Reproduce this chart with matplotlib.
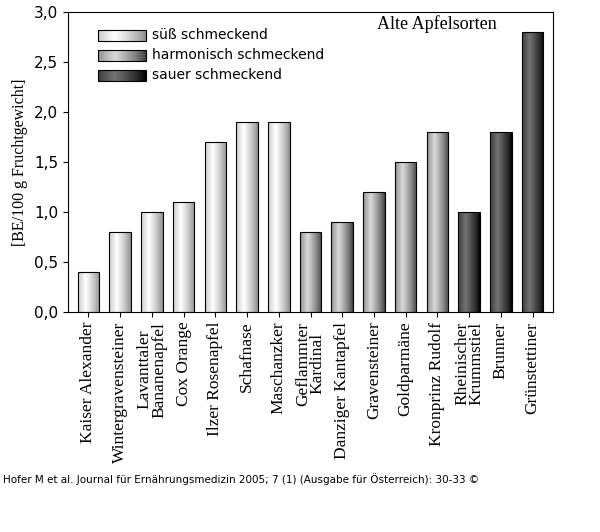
import matplotlib.pyplot as plt
import numpy as np

sorten = ['Kaiser Alexander', 'Wintergravensteiner', 'Lavanttaler\nBananenapfel', 'Cox Orange',
          'Ilzer Rosenapfel', 'Schafnase', 'Maschanzker', 'Geflammter\nKardinal',
          'Danziger Kantapfel', 'Gravensteiner', 'Goldparmäne', 'Kronprinz Rudolf',
          'Rheinischer\nKrummstiel', 'Brunner', 'Grünstettiner']
werte = [0.4, 0.8, 1.0, 1.1, 1.7, 1.9, 1.9, 0.8, 0.9, 1.2, 1.5, 1.8, 1.0, 1.8, 2.8]
gruppe = [0] * 7 + [1] * 5 + [2] * 3
gruppen_namen = ['süß schmeckend', 'harmonisch schmeckend', 'sauer schmeckend']

# (edge, highlight) grey levels per group
shades = [(0.55, 1.0), (0.25, 0.85), (0.0, 0.45)]

fig = plt.figure(figsize=(6, 5.32), dpi=100)
ax = fig.add_axes([0.113, 0.4135, 0.809, 0.5635])
w = 0.68
t = np.linspace(0, 1, 64)
prof = np.clip(1 - np.abs(t - 0.35) / 0.65, 0, 1) ** 0.8

def grad_bar(x, h, g):
    lo, hi = shades[g]
    img = (lo + (hi - lo) * prof)[None, :]
    ax.imshow(img, cmap='gray', vmin=0, vmax=1, aspect='auto',
              extent=[x - w / 2, x + w / 2, 0, h], zorder=2)
    ax.add_patch(plt.Rectangle((x - w / 2, 0), w, h, fill=False, ec='black', lw=0.8, zorder=3))

for i, (v, g) in enumerate(zip(werte, gruppe)):
    grad_bar(i, v, g)

ax.set_xlim(-0.65, len(werte) - 0.35)
ax.set_ylim(0, 3.0)
ax.set_yticks(np.arange(0, 3.01, 0.5))
ax.set_yticklabels([f'{v:.1f}'.replace('.', ',') for v in np.arange(0, 3.01, 0.5)], fontsize=11)
ax.set_xticks(range(len(werte)))
ax.set_xticklabels(sorten, rotation=90, fontsize=12.5, family='Liberation Serif', linespacing=0.85)
ax.tick_params(direction='out')
ax.set_ylabel('[BE/100 g Fruchtgewicht]', fontsize=11.5, family='Liberation Serif')
ax.text(0.76, 0.96, 'Alte Apfelsorten', transform=ax.transAxes, ha='center', va='center',
        fontsize=13, family='Liberation Serif')

# legend
for k, name in enumerate(gruppen_namen):
    y = 0.905 - k * 0.067
    lo, hi = shades[k]
    img = (lo + (hi - lo) * prof)[None, :]
    ax.imshow(img, cmap='gray', vmin=0, vmax=1, aspect='auto',
              extent=[0.3, 1.8, 3.0 * y, 3.0 * y + 0.11], zorder=2)
    ax.add_patch(plt.Rectangle((0.3, 3.0 * y), 1.5, 0.11, fill=False, ec='black', lw=0.8, zorder=3))
    ax.text(2.0, 3.0 * y + 0.055, name, fontsize=10, va='center')

fig.text(0.005, 0.1, 'Hofer M et al. Journal für Ernährungsmedizin 2005; 7 (1) (Ausgabe für Österreich): 30-33 ©',
         fontsize=7.5, va='center')
fig.savefig('out.png', dpi=100)
